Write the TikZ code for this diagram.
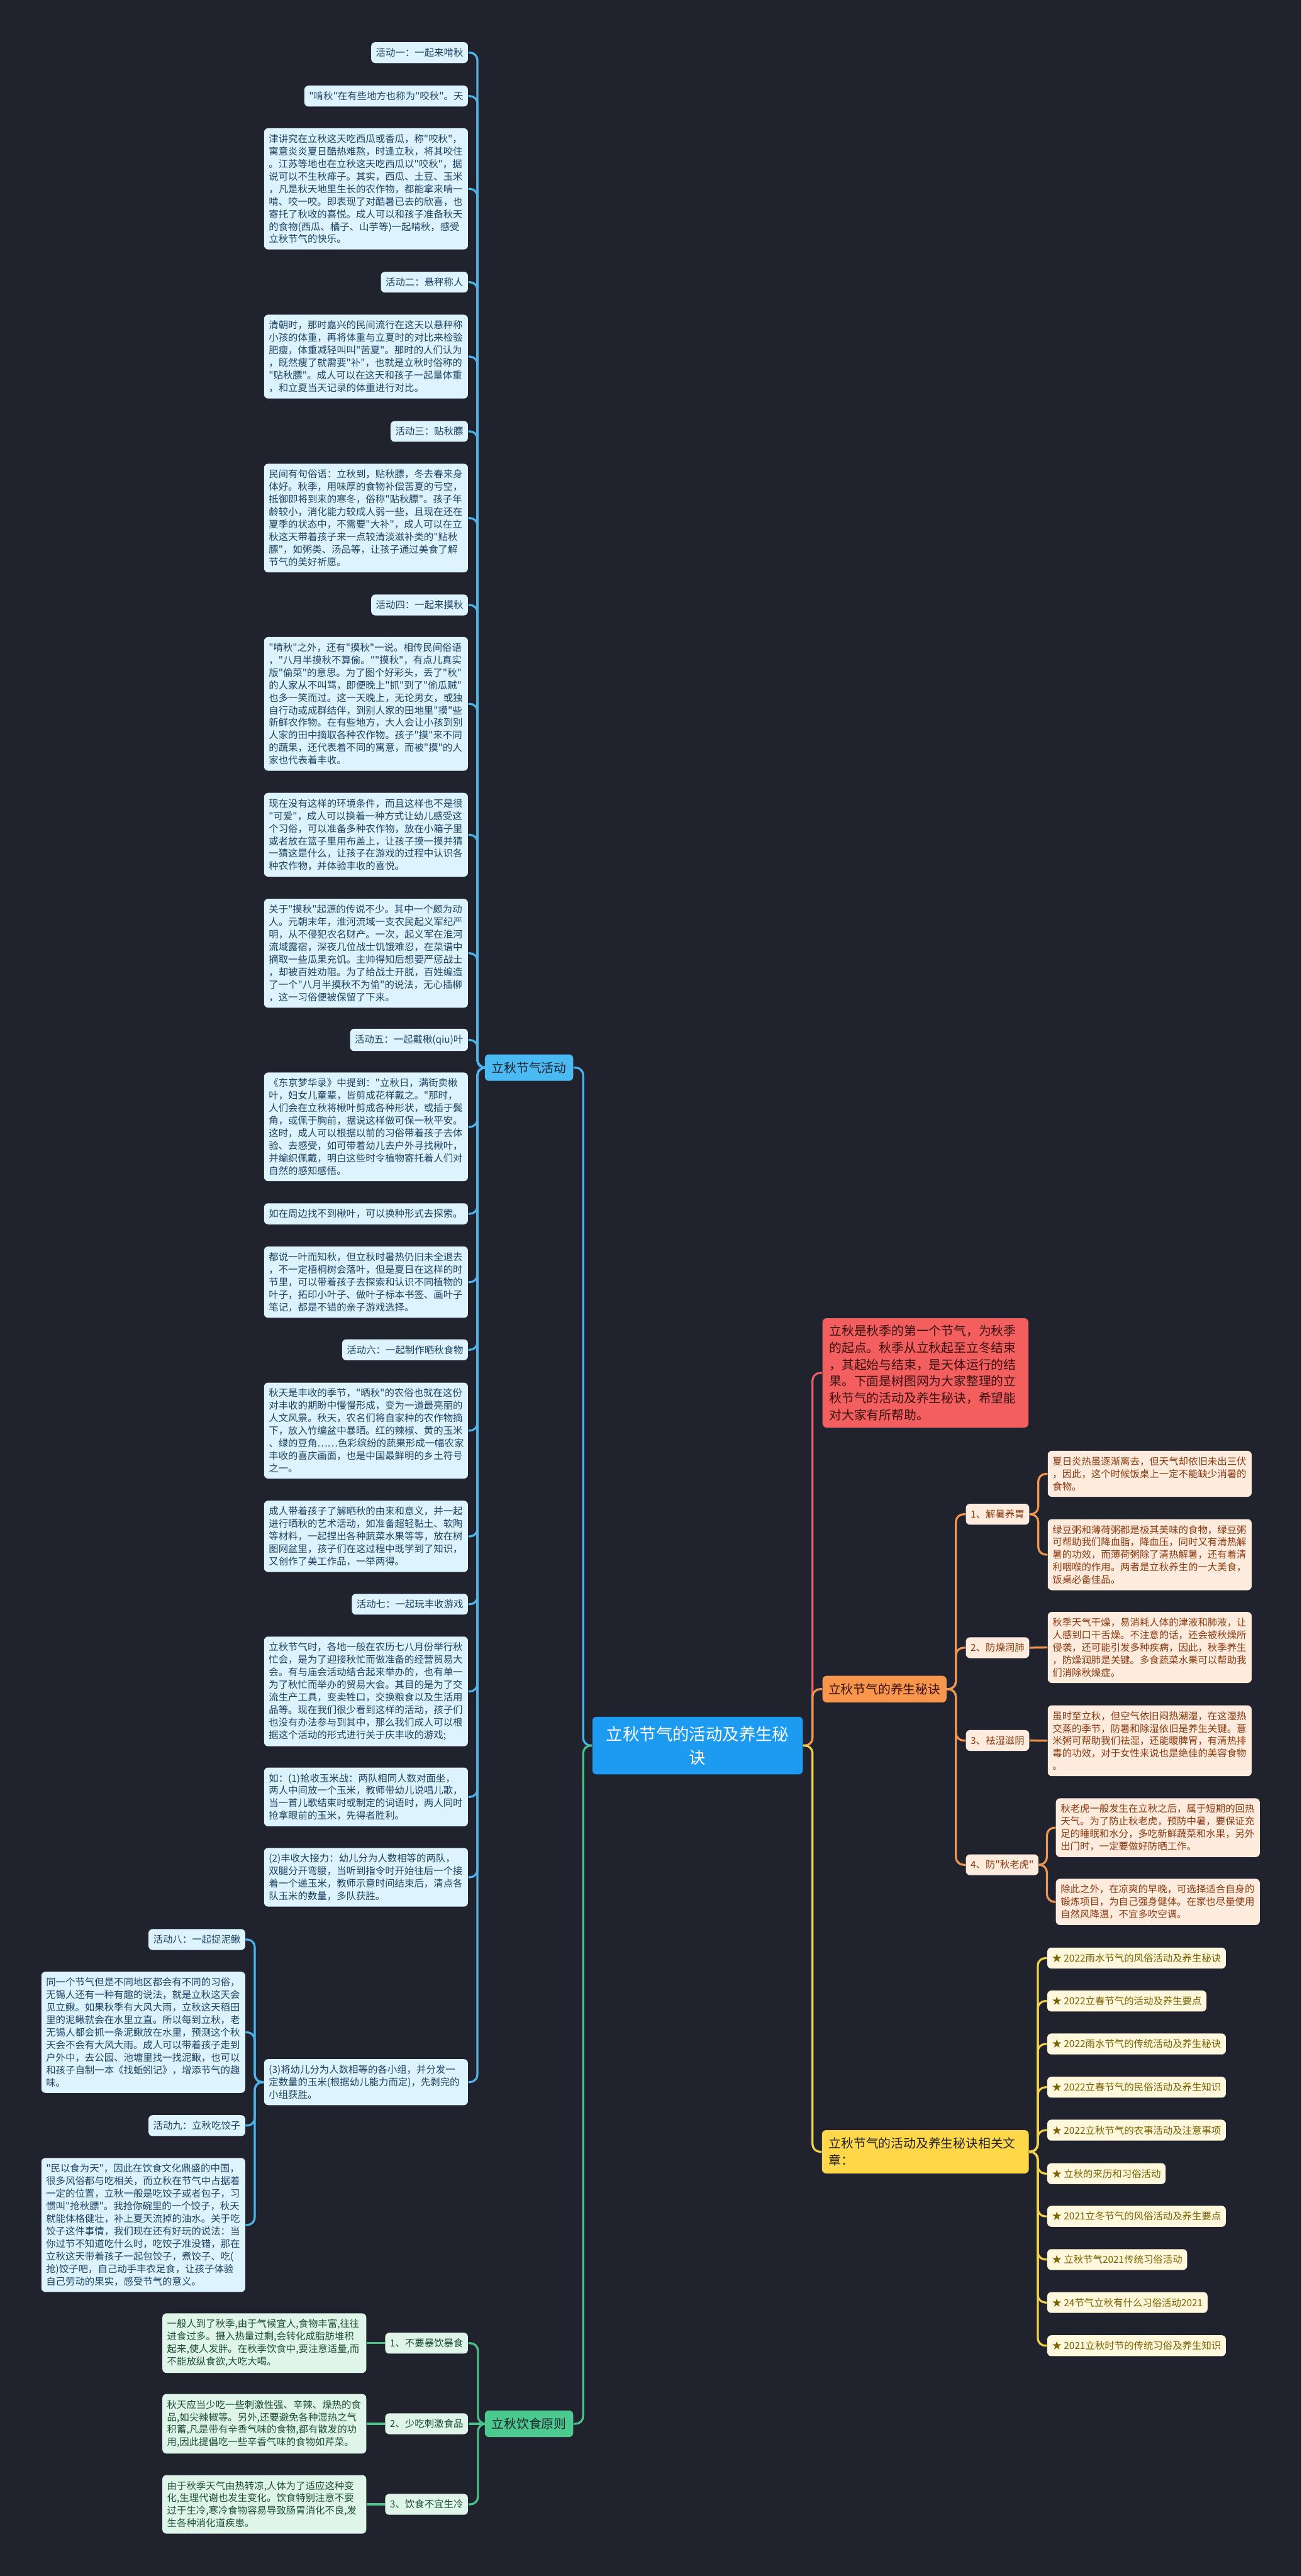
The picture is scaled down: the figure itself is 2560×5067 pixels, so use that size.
\documentclass[tikz,border=0pt]{standalone}
\usepackage{fontspec}
\setmainfont{Noto Sans CJK SC}[Ligatures=TeXOff]
\usepackage{xcolor}
\usepackage{tikz}
\usetikzlibrary{positioning,calc}

\definecolor{bgc}{HTML}{20232E}
\definecolor{blueln}{HTML}{4DB5EC}
\definecolor{bluefl}{HTML}{DDF3FD}
\definecolor{bluetx}{HTML}{1E4262}
\definecolor{bluehub}{HTML}{4BB9F2}
\definecolor{rootfl}{HTML}{1C9BF0}
\definecolor{redln}{HTML}{E8605E}
\definecolor{redfl}{HTML}{F35E5E}
\definecolor{redtx}{HTML}{3A1212}
\definecolor{orgln}{HTML}{F0964E}
\definecolor{orghub}{HTML}{F8964C}
\definecolor{orgfl}{HTML}{FDEBDD}
\definecolor{orgtx}{HTML}{8A3A10}
\definecolor{yelln}{HTML}{F2D24C}
\definecolor{yelhub}{HTML}{FFD84A}
\definecolor{yelfl}{HTML}{FFF8DC}
\definecolor{yeltx}{HTML}{7A6200}
\definecolor{grnln}{HTML}{4CC38A}
\definecolor{grnhub}{HTML}{4CC98E}
\definecolor{grnfl}{HTML}{DFF5E9}
\definecolor{grntx}{HTML}{1D4D33}

\newcommand{\fsm}{\fontsize{5.72pt}{7.4pt}\selectfont}
\newcommand{\fmd}{\fontsize{7.35pt}{9.9pt}\selectfont}
\newcommand{\flg}{\fontsize{9.8pt}{13.8pt}\selectfont}

\begin{document}
\begin{tikzpicture}[x=0.3pt,y=-0.3pt,
  tag/.style={rectangle,rounded corners=2.4pt,font=\fsm,inner xsep=2.8pt,inner ysep=3.5pt,align=left},
  leaf/.style={tag,text width=114.7pt},
  btag/.style={tag,fill=bluefl,text=bluetx,anchor=east},
  bleaf/.style={leaf,fill=bluefl,text=bluetx,anchor=east},
  gtag/.style={tag,fill=grnfl,text=grntx,anchor=east},
  gleaf/.style={leaf,fill=grnfl,text=grntx,anchor=east},
  otag/.style={tag,fill=orgfl,text=orgtx,anchor=west},
  oleaf/.style={leaf,fill=orgfl,text=orgtx,anchor=west},
  ylink/.style={tag,fill=yelfl,text=yeltx,anchor=west},
  hub/.style={rectangle,rounded corners=2.4pt,font=\fmd,inner xsep=4pt,inner ysep=4.4pt,align=left},
  rootbox/.style={rectangle,rounded corners=2.4pt,font=\flg,fill=rootfl,text=white,
                  text width=112pt,inner xsep=6.1pt,inner ysep=5.5pt,align=center},
  bl/.style={blueln,line width=1.2pt,rounded corners=4.5pt},
  rl/.style={bl,redln},
  ol/.style={bl,orgln},
  yl/.style={bl,yelln},
  gl/.style={bl,grnln}
]
\useasboundingbox (0,0) rectangle (2560,5067);
\fill[bgc] (0,0) rectangle (2560,5067);

\node[rootbox] (root) at (1372,3433.5) {立秋节气的活动及养生秘\\诀};

% left: activities
\node[hub,fill=bluehub,text=bgc,anchor=east] (act) at (1128,2100) {立秋节气活动};
\node[btag]  (a1)  at (921,103.5) {活动一：一起来啃秋};
\node[btag]  (a2)  at (921,189) {"啃秋"在有些地方也称为"咬秋"。天};
\node[bleaf] (a3)  at (921,371.5) {津讲究在立秋这天吃西瓜或香瓜，称"咬秋"，\\寓意炎炎夏日酷热难熬，时逢立秋，将其咬住\\。江苏等地也在立秋这天吃西瓜以"咬秋"，据\\说可以不生秋痱子。其实，西瓜、土豆、玉米\\，凡是秋天地里生长的农作物，都能拿来啃一\\啃、咬一咬。即表现了对酷暑已去的欣喜，也\\寄托了秋收的喜悦。成人可以和孩子准备秋天\\的食物(西瓜、橘子、山芋等)一起啃秋，感受\\立秋节气的快乐。};
\node[btag]  (a4)  at (921,555) {活动二：悬秤称人};
\node[bleaf] (a5)  at (921,701.5) {清朝时，那时嘉兴的民间流行在这天以悬秤称\\小孩的体重，再将体重与立夏时的对比来检验\\肥瘦，体重减轻叫叫"苦夏"。那时的人们认为\\，既然瘦了就需要"补"，也就是立秋时俗称的\\"贴秋膘"。成人可以在这天和孩子一起量体重\\，和立夏当天记录的体重进行对比。};
\node[btag]  (a6)  at (921,848.5) {活动三：贴秋膘};
\node[bleaf] (a7)  at (921,1019) {民间有句俗语：立秋到，贴秋膘，冬去春来身\\体好。秋季，用味厚的食物补偿苦夏的亏空，\\抵御即将到来的寒冬，俗称"贴秋膘"。孩子年\\龄较小，消化能力较成人弱一些，且现在还在\\夏季的状态中，不需要"大补"，成人可以在立\\秋这天带着孩子来一点较清淡滋补类的"贴秋\\膘"，如粥类、汤品等，让孩子通过美食了解\\节气的美好祈愿。};
\node[btag]  (a8)  at (921,1190) {活动四：一起来摸秋};
\node[bleaf] (a9)  at (921,1384.5) {"啃秋"之外，还有"摸秋"一说。相传民间俗语\\，"八月半摸秋不算偷。""摸秋"，有点儿真实\\版"偷菜"的意思。为了图个好彩头，丢了"秋"\\的人家从不叫骂，即便晚上"抓"到了"偷瓜贼"\\也多一笑而过。这一天晚上，无论男女，或独\\自行动或成群结伴，到别人家的田地里"摸"些\\新鲜农作物。在有些地方，大人会让小孩到别\\人家的田中摘取各种农作物。孩子"摸"来不同\\的蔬果，还代表着不同的寓意，而被"摸"的人\\家也代表着丰收。};
\node[bleaf] (a10) at (921,1642) {现在没有这样的环境条件，而且这样也不是很\\"可爱"，成人可以换着一种方式让幼儿感受这\\个习俗，可以准备多种农作物，放在小箱子里\\或者放在篮子里用布盖上，让孩子摸一摸并猜\\一猜这是什么，让孩子在游戏的过程中认识各\\种农作物，并体验丰收的喜悦。};
\node[bleaf] (a11) at (921,1875) {关于"摸秋"起源的传说不少。其中一个颇为动\\人。元朝末年，淮河流域一支农民起义军纪严\\明，从不侵犯农名财产。一次，起义军在淮河\\流域露宿，深夜几位战士饥饿难忍，在菜谱中\\摘取一些瓜果充饥。主帅得知后想要严惩战士\\，却被百姓劝阻。为了给战士开脱，百姓编造\\了一个"八月半摸秋不为偷"的说法，无心插柳\\，这一习俗便被保留了下来。};
\node[btag]  (a12) at (921,2045.5) {活动五：一起戴楸(qiu)叶};
\node[bleaf] (a13) at (921,2216.5) {《东京梦华录》中提到："立秋日，满街卖楸\\叶，妇女儿童辈，皆剪成花样戴之。"那时，\\人们会在立秋将楸叶剪成各种形状，或插于鬓\\角，或佩于胸前，据说这样做可保一秋平安。\\这时，成人可以根据以前的习俗带着孩子去体\\验、去感受，如可带着幼儿去户外寻找楸叶，\\并编织佩戴，明白这些时令植物寄托着人们对\\自然的感知感悟。};
\node[bleaf] (a14) at (921,2387.5) {如在周边找不到楸叶，可以换种形式去探索。};
\node[bleaf] (a15) at (921,2522) {都说一叶而知秋，但立秋时暑热仍旧未全退去\\，不一定梧桐树会落叶，但是夏日在这样的时\\节里，可以带着孩子去探索和认识不同植物的\\叶子，拓印小叶子、做叶子标本书签、画叶子\\笔记，都是不错的亲子游戏选择。};
\node[btag]  (a16) at (921,2655) {活动六：一起制作晒秋食物};
\node[bleaf] (a17) at (921,2814) {秋天是丰收的季节，"晒秋"的农俗也就在这份\\对丰收的期盼中慢慢形成，变为一道最亮丽的\\人文风景。秋天，农名们将自家种的农作物摘\\下，放入竹编盆中暴晒。红的辣椒、黄的玉米\\、绿的豆角……色彩缤纷的蔬果形成一幅农家\\丰收的喜庆画面，也是中国最鲜明的乡土符号\\之一。};
\node[bleaf] (a18) at (921,3022) {成人带着孩子了解晒秋的由来和意义，并一起\\进行晒秋的艺术活动，如准备超轻黏土、软陶\\等材料，一起捏出各种蔬菜水果等等，放在树\\图网盆里，孩子们在这过程中既学到了知识，\\又创作了美工作品，一举两得。};
\node[btag]  (a19) at (921,3155.5) {活动七：一起玩丰收游戏};
\node[bleaf] (a20) at (921,3327) {立秋节气时，各地一般在农历七八月份举行秋\\忙会，是为了迎接秋忙而做准备的经营贸易大\\会。有与庙会活动结合起来举办的，也有单一\\为了秋忙而举办的贸易大会。其目的是为了交\\流生产工具，变卖牲口，交换粮食以及生活用\\品等。现在我们很少看到这样的活动，孩子们\\也没有办法参与到其中，那么我们成人可以根\\据这个活动的形式进行关于庆丰收的游戏;};
\node[bleaf] (a21) at (921,3534.5) {如：(1)抢收玉米战：两队相同人数对面坐，\\两人中间放一个玉米，教师带幼儿说唱儿歌，\\当一首儿歌结束时或制定的词语时，两人同时\\抢拿眼前的玉米，先得者胜利。};
\node[bleaf] (a22) at (921,3692.5) {(2)丰收大接力：幼儿分为人数相等的两队，\\双腿分开弯腰，当听到指令时开始往后一个接\\着一个递玉米，教师示意时间结束后，清点各\\队玉米的数量，多队获胜。};
\node[bleaf] (a23) at (921,4095.5) {(3)将幼儿分为人数相等的各小组，并分发一\\定数量的玉米(根据幼儿能力而定)，先剥完的\\小组获胜。};
\node[btag]  (a24) at (483,3815) {活动八：一起捉泥鳅};
\node[bleaf] (a25) at (483,3997.5) {同一个节气但是不同地区都会有不同的习俗，\\无锡人还有一种有趣的说法，就是立秋这天会\\见立鳅。如果秋季有大风大雨，立秋这天稻田\\里的泥鳅就会在水里立直。所以每到立秋，老\\无锡人都会抓一条泥鳅放在水里，预测这个秋\\天会不会有大风大雨。成人可以带着孩子走到\\户外中，去公园、池塘里找一找泥鳅，也可以\\和孩子自制一本《找蚯蚓记》，增添节气的趣\\味。};
\node[btag]  (a26) at (483,4181) {活动九：立秋吃饺子};
\node[bleaf] (a27) at (483,4376.5) {"民以食为天"，因此在饮食文化鼎盛的中国，\\很多风俗都与吃相关，而立秋在节气中占据着\\一定的位置，立秋一般是吃饺子或者包子，习\\惯叫"抢秋膘"。我抢你碗里的一个饺子，秋天\\就能体格健壮，补上夏天流掉的油水。关于吃\\饺子这件事情，我们现在还有好玩的说法：当\\你过节不知道吃什么时，吃饺子准没错，那在\\立秋这天带着孩子一起包饺子，煮饺子、吃(\\抢)饺子吧，自己动手丰衣足食，让孩子体验\\自己劳动的果实，感受节气的意义。};

% left: diet
\node[hub,fill=grnhub,text=bgc,anchor=east] (diet) at (1128,4767.5) {立秋饮食原则};
\node[gtag]  (d1)  at (921,4609) {1、不要暴饮暴食};
\node[gtag]  (d2)  at (921,4767.5) {2、少吃刺激食品};
\node[gtag]  (d3)  at (921,4926) {3、饮食不宜生冷};
\node[gleaf] (d1t) at (721,4609) {一般人到了秋季,由于气候宜人,食物丰富,往往\\进食过多。摄入热量过剩,会转化成脂肪堆积\\起来,使人发胖。在秋季饮食中,要注意适量,而\\不能放纵食欲,大吃大喝。};
\node[gleaf] (d2t) at (721,4767.5) {秋天应当少吃一些刺激性强、辛辣、燥热的食\\品,如尖辣椒等。另外,还要避免各种湿热之气\\积蓄,凡是带有辛香气味的食物,都有散发的功\\用,因此提倡吃一些辛香气味的食物如芹菜。};
\node[gleaf] (d3t) at (721,4926) {由于秋季天气由热转凉,人体为了适应这种变\\化,生理代谢也发生变化。饮食特别注意不要\\过于生冷,寒冷食物容易导致肠胃消化不良,发\\生各种消化道疾患。};

% right: intro, health, links
\node[hub,fill=redfl,text=redtx,anchor=west,text width=113.5pt,inner ysep=4.1pt] (intro) at (1617,2700.5) {立秋是秋季的第一个节气，为秋季\\的起点。秋季从立秋起至立冬结束\\，其起始与结束，是天体运行的结\\果。下面是树图网为大家整理的立\\秋节气的活动及养生秘诀，希望能\\对大家有所帮助。};
\node[hub,fill=orghub,text=redtx,anchor=west,inner xsep=3.5pt] (care) at (1617,3322.5) {立秋节气的养生秘诀};
\node[otag]  (c1)  at (1899,2978.5) {1、解暑养胃};
\node[otag]  (c2)  at (1899,3241) {2、防燥润肺};
\node[otag]  (c3)  at (1899,3423.5) {3、祛湿滋阴};
\node[otag]  (c4)  at (1899,3668) {4、防"秋老虎"};
\node[oleaf] (c1a) at (2060,2899) {夏日炎热虽逐渐离去，但天气却依旧未出三伏\\，因此，这个时候饭桌上一定不能缺少消暑的\\食物。};
\node[oleaf] (c1b) at (2060,3058) {绿豆粥和薄荷粥都是极其美味的食物，绿豆粥\\可帮助我们降血脂，降血压，同时又有清热解\\暑的功效，而薄荷粥除了清热解暑，还有着清\\利咽喉的作用。两者是立秋养生的一大美食，\\饭桌必备佳品。};
\node[oleaf] (c2a) at (2060,3240.5) {秋季天气干燥，易消耗人体的津液和肺液，让\\人感到口干舌燥。不注意的话，还会被秋燥所\\侵袭，还可能引发多种疾病，因此，秋季养生\\，防燥润肺是关键。多食蔬菜水果可以帮助我\\们消除秋燥症。};
\node[oleaf] (c3a) at (2060,3424) {虽时至立秋，但空气依旧闷热潮湿，在这湿热\\交蒸的季节，防暑和除湿依旧是养生关键。薏\\米粥可帮助我们祛湿，还能暖脾胃，有清热排\\毒的功效，对于女性来说也是绝佳的美容食物\\。};
\node[oleaf] (c4a) at (2076,3595) {秋老虎一般发生在立秋之后，属于短期的回热\\天气。为了防止秋老虎，预防中暑，要保证充\\足的睡眠和水分，多吃新鲜蔬菜和水果，另外\\出门时，一定要做好防晒工作。};
\node[oleaf] (c4b) at (2076,3741) {除此之外，在凉爽的早晚，可选择适合自身的\\锻炼项目，为自己强身健体。在家也尽量使用\\自然风降温，不宜多吹空调。};
\node[hub,fill=yelhub,text=bgc,anchor=west,text width=114pt] (rel) at (1616,4232.5) {立秋节气的活动及养生秘诀相关文\\章：};
\node[ylink] (r1)  at (2059,3851.5) {★ 2022雨水节气的风俗活动及养生秘诀};
\node[ylink] (r2)  at (2059,3936) {★ 2022立春节气的活动及养生要点};
\node[ylink] (r3)  at (2059,4020.5) {★ 2022雨水节气的传统活动及养生秘诀};
\node[ylink] (r4)  at (2059,4105.5) {★ 2022立春节气的民俗活动及养生知识};
\node[ylink] (r5)  at (2059,4190) {★ 2022立秋节气的农事活动及注意事项};
\node[ylink] (r6)  at (2059,4275.5) {★ 立秋的来历和习俗活动};
\node[ylink] (r7)  at (2059,4359.5) {★ 2021立冬节气的风俗活动及养生要点};
\node[ylink] (r8)  at (2059,4444.5) {★ 立秋节气2021传统习俗活动};
\node[ylink] (r9)  at (2059,4529) {★ 24节气立秋有什么习俗活动2021};
\node[ylink] (r10) at (2059,4614) {★ 2021立秋时节的传统习俗及养生知识};

% spines
\coordinate (spL) at (1147,3433.5);
\coordinate (spR) at (1598,3433.5);
\coordinate (spA) at (939,2100);
\coordinate (spE) at (501,4095.5);
\coordinate (spD) at (940,4767.5);
\coordinate (spC) at (1880,3322.5);
\coordinate (spC1) at (2042,2978.5);
\coordinate (spC4) at (2059,3668);
\coordinate (spY) at (2041,4232.5);

\draw[bl](root.west)--(spL)|-(act.east); \draw[gl](root.west)--(spL)|-(diet.east);
\draw[rl](root.east)--(spR)|-(intro.west); \draw[ol](root.east)--(spR)|-(care.west);
\draw[yl](root.east)--(spR)|-(rel.west);

\draw[bl](act.west)--(spA)|-(a1.east); \draw[bl](act.west)--(spA)|-(a2.east);
\draw[bl](act.west)--(spA)|-(a3.east); \draw[bl](act.west)--(spA)|-(a4.east);
\draw[bl](act.west)--(spA)|-(a5.east); \draw[bl](act.west)--(spA)|-(a6.east);
\draw[bl](act.west)--(spA)|-(a7.east); \draw[bl](act.west)--(spA)|-(a8.east);
\draw[bl](act.west)--(spA)|-(a9.east); \draw[bl](act.west)--(spA)|-(a10.east);
\draw[bl](act.west)--(spA)|-(a11.east); \draw[bl](act.west)--(spA)|-(a12.east);
\draw[bl](act.west)--(spA)|-(a13.east); \draw[bl](act.west)--(spA)|-(a14.east);
\draw[bl](act.west)--(spA)|-(a15.east); \draw[bl](act.west)--(spA)|-(a16.east);
\draw[bl](act.west)--(spA)|-(a17.east); \draw[bl](act.west)--(spA)|-(a18.east);
\draw[bl](act.west)--(spA)|-(a19.east); \draw[bl](act.west)--(spA)|-(a20.east);
\draw[bl](act.west)--(spA)|-(a21.east); \draw[bl](act.west)--(spA)|-(a22.east);
\draw[bl](act.west)--(spA)|-(a23.east);
\draw[bl](a23.west)--(spE)|-(a24.east); \draw[bl](a23.west)--(spE)|-(a25.east);
\draw[bl](a23.west)--(spE)|-(a26.east); \draw[bl](a23.west)--(spE)|-(a27.east);

\draw[gl](diet.west)--(spD)|-(d1.east); \draw[gl](diet.west)--(d2.east);
\draw[gl](diet.west)--(spD)|-(d3.east);
\draw[gl](d1.west)--(d1t.east); \draw[gl](d2.west)--(d2t.east); \draw[gl](d3.west)--(d3t.east);

\draw[ol](care.east)--(spC)|-(c1.west); \draw[ol](care.east)--(spC)|-(c2.west);
\draw[ol](care.east)--(spC)|-(c3.west); \draw[ol](care.east)--(spC)|-(c4.west);
\draw[ol](c1.east)--(spC1)|-(c1a.west); \draw[ol](c1.east)--(spC1)|-(c1b.west);
\draw[ol](c2.east)--(c2a.west); \draw[ol](c3.east)--(c3a.west);
\draw[ol](c4.east)--(spC4)|-(c4a.west); \draw[ol](c4.east)--(spC4)|-(c4b.west);

\draw[yl](rel.east)--(spY)|-(r1.west); \draw[yl](rel.east)--(spY)|-(r2.west);
\draw[yl](rel.east)--(spY)|-(r3.west); \draw[yl](rel.east)--(spY)|-(r4.west);
\draw[yl](rel.east)--(spY)|-(r5.west); \draw[yl](rel.east)--(spY)|-(r6.west);
\draw[yl](rel.east)--(spY)|-(r7.west); \draw[yl](rel.east)--(spY)|-(r8.west);
\draw[yl](rel.east)--(spY)|-(r9.west); \draw[yl](rel.east)--(spY)|-(r10.west);
\end{tikzpicture}
\end{document}
